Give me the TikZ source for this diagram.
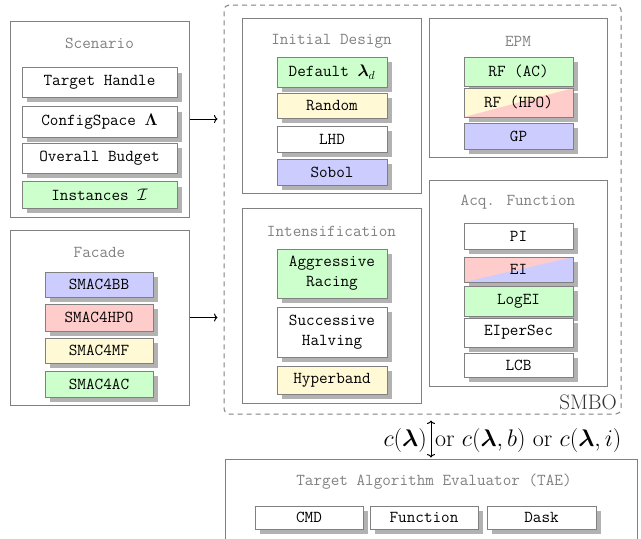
\RequirePackage{fix-cm}
\documentclass[tikz,border=0pt]{standalone}
\usepackage{amsmath}
\usetikzlibrary{shadows,arrows.meta}
\definecolor{cgreen}{RGB}{204,255,204}
\definecolor{cyellow}{RGB}{255,249,214}
\definecolor{cblue}{RGB}{204,204,255}
\definecolor{cred}{RGB}{255,204,204}
\definecolor{bordergray}{RGB}{128,128,128}
\newcommand\ttsz{\fontsize{16.7}{20}\selectfont\ttfamily}
\tikzset{
  outer/.style={draw=bordergray, line width=1pt, inner sep=0pt},
  ttl/.style={font=\ttsz, text=black!50, inner sep=0pt},
  inbox/.style={draw=bordergray, line width=1pt, fill=white, font=\ttsz, inner sep=0pt, align=center,
    drop shadow={shadow xshift=5pt, shadow yshift=-5pt, fill=black!30, opacity=1}},
  split/.style 2 args={fill=#2, path picture={\fill[#1] (path picture bounding box.north west) -- (path picture bounding box.south west) -- (path picture bounding box.north east) -- cycle;}},
  arr/.style={line width=1pt, -{To[length=3.5pt,width=8pt]}},
}
\begin{document}
\begin{tikzpicture}[x=1pt,y=-1pt]
\useasboundingbox (0,0) rectangle (641,539);
% SMBO frame
\node[draw=bordergray, line width=1pt, dash pattern=on 5pt off 4pt, rounded corners=5pt, minimum width=397, minimum height=409, inner sep=0pt] (smbo) at (422.5,209.5) {};
\node[anchor=base east, inner sep=0pt, font=\fontsize{21}{25}\selectfont, text=black!80] (smbot) at (617,409) {SMBO};
% Scenario
\node[outer, minimum width=179, minimum height=196] (scen) at (99.5,119) {};
\node[ttl] (scent) at (99.5,43) {Scenario};
\node[inbox, minimum width=155, minimum height=29.5] (th) at (99.5,82.5) {Target Handle};
\node[inbox, minimum width=155, minimum height=30.5] (cs) at (99.5,122) {ConfigSpace $\mathbf{\Lambda}$};
\node[inbox, minimum width=155, minimum height=30] (ob) at (99.5,158.3) {Overall Budget};
\node[inbox, fill=cgreen, minimum width=155, minimum height=26.5] (inst) at (99.5,195) {Instances $\mathcal{I}$};
% Facade
\node[outer, minimum width=179, minimum height=175] (fac) at (99.5,317.5) {};
\node[ttl] (fact) at (99.5,252) {Facade};
\node[inbox, fill=cblue, minimum width=108, minimum height=25] (bb) at (99,284.5) {SMAC4BB};
\node[inbox, fill=cred, minimum width=108, minimum height=27] (hpo) at (99,317.5) {SMAC4HPO};
\node[inbox, fill=cyellow, minimum width=108, minimum height=25] (mf) at (99,350.5) {SMAC4MF};
\node[inbox, fill=cgreen, minimum width=108, minimum height=26] (ac) at (99,384) {SMAC4AC};
% Initial design
\node[outer, minimum width=179, minimum height=175] (init) at (331.5,105.5) {};
\node[ttl] (initt) at (331.5,41) {Initial Design};
\node[inbox, fill=cgreen, minimum width=110, minimum height=30] (def) at (332,72) {Default $\boldsymbol{\lambda}_d$};
\node[inbox, fill=cyellow, minimum width=110, minimum height=25] (rand) at (332,105.5) {Random};
\node[inbox, minimum width=110, minimum height=26] (lhd) at (332,139) {LHD};
\node[inbox, fill=cblue, minimum width=110, minimum height=26] (sob) at (332,172) {Sobol};
% EPM
\node[outer, minimum width=178, minimum height=139] (epm) at (518,87.5) {};
\node[ttl] (epmt) at (518,41) {EPM};
\node[inbox, fill=cgreen, minimum width=109, minimum height=29] (rfac) at (518.5,71.5) {RF (AC)};
\node[inbox, split={cyellow}{cred}, minimum width=109, minimum height=29] (rfhpo) at (518.5,102.5) {RF (HPO)};
\node[inbox, fill=cblue, minimum width=109, minimum height=26] (gp) at (518.5,136) {GP};
% Intensification
\node[outer, minimum width=179, minimum height=195] (int) at (331.5,305.5) {};
\node[ttl] (intt) at (331.5,231) {Intensification};
\node[inbox, fill=cgreen, minimum width=110, minimum height=49] (agr) at (332,273.5) {Aggressive\\Racing};
\node[inbox, minimum width=110, minimum height=50] (sh) at (332,332) {Successive\\Halving};
\node[inbox, fill=cyellow, minimum width=110, minimum height=28] (hb) at (332,380) {Hyperband};
% Acquisition function
\node[outer, minimum width=178, minimum height=206] (acq) at (518,283) {};
\node[ttl] (acqt) at (518,202) {Acq. Function};
\node[inbox, minimum width=109, minimum height=26] (pi) at (518.5,236) {PI};
\node[inbox, split={cred}{cblue}, minimum width=109, minimum height=25] (ei) at (518.5,269.5) {EI};
\node[inbox, fill=cgreen, minimum width=109, minimum height=30] (logei) at (518.5,301) {LogEI};
\node[inbox, minimum width=109, minimum height=29] (eips) at (518.5,332.5) {EIperSec};
\node[inbox, minimum width=109, minimum height=24] (lcb) at (518.5,365) {LCB};
% TAE
\node[outer, minimum width=412, minimum height=120] (tae) at (431,519) {};
\node[ttl] (taet) at (434,482) {Target Algorithm Evaluator (TAE)};
\node[inbox, minimum width=108, minimum height=23] (cmd) at (309,517.5) {CMD};
\node[inbox, minimum width=108, minimum height=23] (fun) at (424,517.5) {Function};
\node[inbox, minimum width=109, minimum height=23] (dask) at (541.5,517.5) {Dask};
% connectors
\draw[arr, shorten >=6pt] (scen.east) -- (scen.east -| smbo.west);
\draw[arr, shorten >=6pt] (fac.east) -- (fac.east -| smbo.west);
\draw[line width=1pt, {To[length=3.5pt,width=8pt]}-{To[length=3.5pt,width=8pt]}, shorten <=6pt, shorten >=1pt] (smbo.south -| tae.north) -- (tae.north);
\node[anchor=base east, inner sep=0pt, font=\fontsize{24}{28}\selectfont] (cl1) at (427,446) {$c(\boldsymbol{\lambda})$};
\node[anchor=base west, inner sep=0pt, font=\fontsize{24}{28}\selectfont] (cl2) at (435,446) {or $c(\boldsymbol{\lambda},b)$ or $c(\boldsymbol{\lambda},i)$};
\end{tikzpicture}
\end{document}
